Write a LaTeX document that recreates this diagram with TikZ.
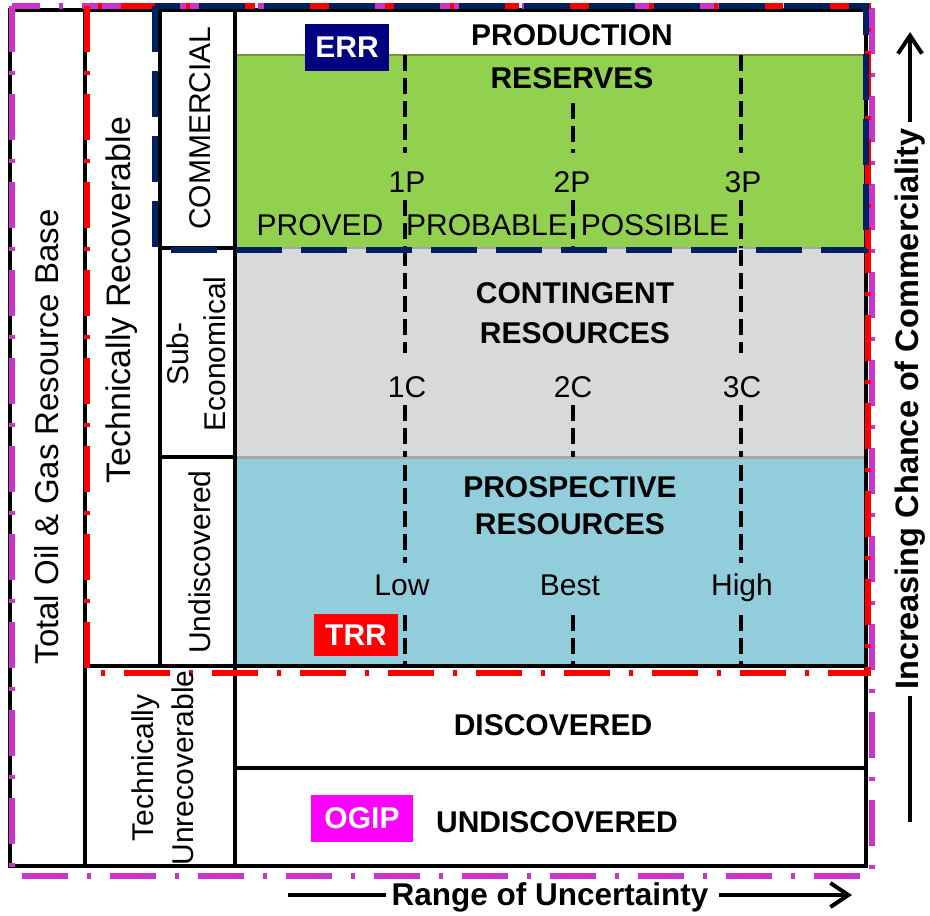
\documentclass[tikz,border=0pt]{standalone}
\usepackage{fontspec}
\setmainfont{Liberation Sans}
\usetikzlibrary{arrows.meta}

\definecolor{resgreen}{HTML}{92D050}
\definecolor{resedge}{HTML}{77933C}
\definecolor{congrey}{HTML}{D9D9D9}
\definecolor{conedge}{HTML}{A6A6A6}
\definecolor{prosblue}{HTML}{92CDDC}
\definecolor{errnavy}{HTML}{002060}
\definecolor{errfill}{HTML}{000080}
\definecolor{ogipmag}{HTML}{FF00FF}
\definecolor{ogipedge}{HTML}{CC33CC}

\begin{document}
\begin{tikzpicture}[x=1pt, y=-1pt,
  lbl/.style={font=\fontsize{30}{37}\selectfont\bfseries, align=center},
  val/.style={font=\fontsize{30}{36}\selectfont, anchor=base, inner sep=0pt},
  side/.style={font=\fontsize{30}{37}\selectfont, rotate=90, align=center, inner sep=0pt},
  tag/.style={font=\fontsize{30}{32}\selectfont\bfseries, text=white, inner sep=0pt},
  grid/.style={line width=4pt},
  cut/.style={line width=4.5pt, dash pattern=on 16pt off 7pt},
  dashdot/.style={line width=5.5pt, dash pattern=on 46pt off 19pt on 4pt off 19pt},
  axislbl/.style={font=\fontsize{31.5}{36}\selectfont\bfseries, inner sep=5pt},
  axisline/.style={line width=4pt},
]
\useasboundingbox (0,0) rectangle (930,916);
\fill[white] (0,0) rectangle (930,916);

% --- resource classes ---
\draw[resedge, line width=2pt, fill=resgreen] (235,55) rectangle (866,248);
\draw[conedge, line width=2pt, fill=congrey] (235,248) rectangle (866,457);
\fill[prosblue] (235,458) rectangle (866,666);
\draw[conedge, line width=3pt] (235,457) -- (866,457);

% --- uncertainty splits (1P/2P/3P, 1C/2C/3C, Low/Best/High) ---
\foreach \x/\ya/\yb in {405/55/153, 405/200/248, 573/103/153, 573/200/248,
                        741/55/153, 741/200/248,
                        405/250/353, 405/405/457, 573/405/457,
                        741/250/353, 741/405/457,
                        405/465/563, 405/615/665, 573/615/665,
                        741/465/563, 741/615/665}
  \draw[cut] (\x,\ya) -- (\x,\yb);

% --- frame ---
\draw[grid] (10,10) rectangle (866,866);
\draw[grid] (85,10) -- (85,866);
\draw[grid] (160,10) -- (160,666);
\draw[grid] (235,10) -- (235,866);
\draw[grid] (160,248) -- (235,248);
\draw[grid] (160,457) -- (235,457);
\draw[grid] (85,666) -- (866,666);
\draw[grid] (235,768) -- (866,768);

% --- OGIP / TRR / ERR outlines ---
\draw[dashdot, ogipedge] (12,6) rectangle (872,876);
\draw[dashdot, red] (87,6) rectangle (868,673);
\draw[errnavy, line width=5.5pt, dash pattern=on 46pt off 19pt] (155,6) rectangle (866,250);

% --- class labels ---
\node[lbl, anchor=base] (prod) at (572,45) {PRODUCTION};
\node[lbl, anchor=base] (resv) at (572,88) {RESERVES};
\node[val] (p1) at (407,192) {1P};
\node[val] (p2) at (572,192) {2P};
\node[val] (p3) at (743,192) {3P};
\node[val] (proved) at (320,235) {PROVED};
\node[val] (probable) at (487,235) {PROBABLE};
\node[val] (possible) at (655,235) {POSSIBLE};

\node[lbl, font=\fontsize{30}{40}\selectfont\bfseries] (cont) at (575,313) {CONTINGENT\\RESOURCES};
\node[val] (c1) at (407,397) {1C};
\node[val] (c2) at (573,397) {2C};
\node[val] (c3) at (742,397) {3C};

\node[lbl] (pros) at (570,506) {PROSPECTIVE\\RESOURCES};
\node[val] (low) at (402,595) {Low};
\node[val] (best) at (570,595) {Best};
\node[val] (high) at (742,595) {High};

\node[lbl, anchor=base] (disc) at (553,735) {DISCOVERED};
\node[lbl, anchor=base] (undisc) at (557,832) {UNDISCOVERED};

% --- tags ---
\node[tag, fill=errfill, minimum width=84pt, minimum height=47pt] (err) at (347,47.5) {ERR};
\node[tag, fill=red, minimum width=84pt, minimum height=42pt] (trr) at (356,635) {TRR};
\node[tag, fill=ogipmag, minimum width=102pt, minimum height=47pt] (ogip) at (362,818.5) {OGIP};

% --- side labels ---
\node[side, font=\fontsize{33}{38}\selectfont] (total) at (47,437) {Total Oil \& Gas Resource Base};
\node[side, font=\fontsize{34}{38}\selectfont] (techrec) at (122,300) {Technically Recoverable};
\node[side] (comm) at (200,128) {COMMERCIAL};
\node[side] (subeco) at (196,354) {Sub-\\Economical};
\node[side] (undiscside) at (200,562) {Undiscovered};
\node[side, font=\fontsize{30}{40}\selectfont] (techunrec) at (163,768) {Technically\\Unrecoverable};

% --- axes ---
\node[axislbl, anchor=base] (range) at (550,905) {Range of Uncertainty};
\coordinate (rangeL) at (288,895);
\coordinate (rangeR) at (852,895);
\draw[axisline] (rangeL) -- (range.west |- rangeL);
\draw[axisline, -{Straight Barb[length=18pt, width=24pt]}] ([xshift=5pt]range.east |- rangeR) -- (rangeR);

\node[axislbl, font=\fontsize{32.5}{36}\selectfont\bfseries, rotate=90, inner sep=6pt] (chance) at (910,409) {Increasing Chance of Commerciality};
\coordinate (chanceT) at (910,32);
\coordinate (chanceB) at (910,822);
\draw[axisline] (chanceB) -- (chance.west -| chanceB);
\draw[axisline, -{Straight Barb[length=18pt, width=24pt]}] (chance.east -| chanceT) -- (chanceT);

\end{tikzpicture}
\end{document}
